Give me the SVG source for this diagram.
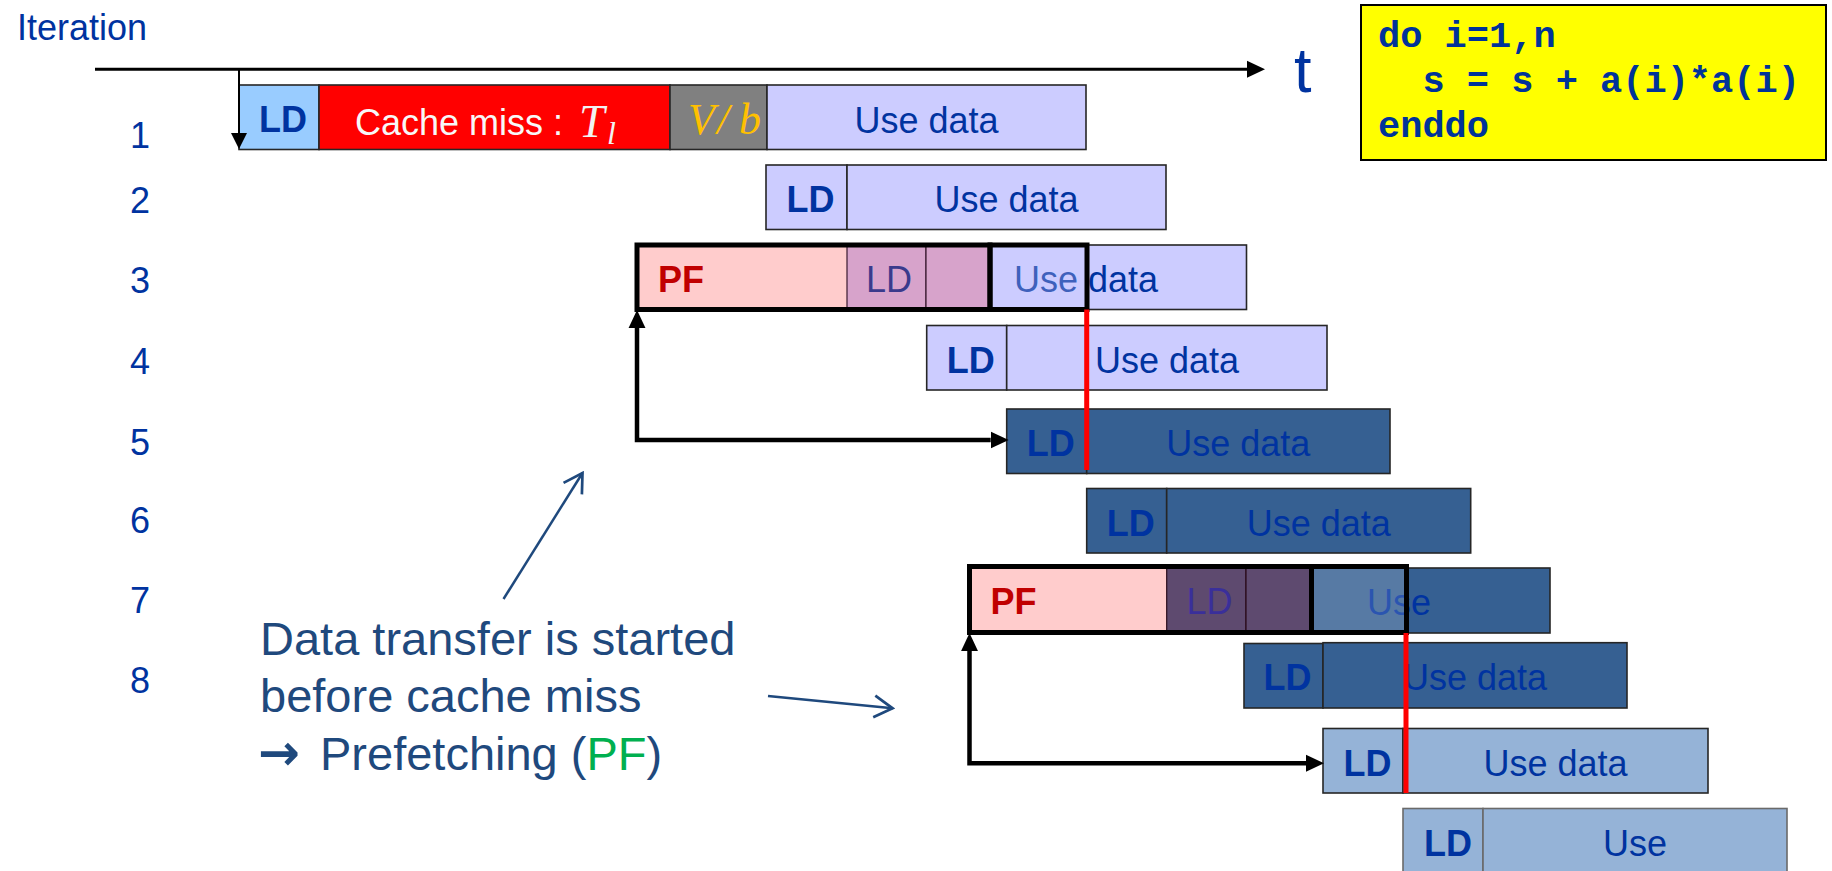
<svg xmlns="http://www.w3.org/2000/svg" width="1832" height="871" viewBox="0 0 1832 871">
<defs>
<style>
text{font-family:"Liberation Sans",Arial,sans-serif}
.lbl{fill:#0033a0}
.num{font-size:36px;fill:#0033a0;text-anchor:middle}
.ld{font-size:36px;font-weight:bold;fill:#0033a0;text-anchor:middle}
.use{font-size:36px;fill:#0033a0;text-anchor:middle}
.box{stroke:#262626;stroke-width:1.6}
.lav{fill:#ccccff}
.dk{fill:#366092}
.lt{fill:#95b3d7}
.thick{fill:none;stroke:#000;stroke-width:5}
.math{font-family:"Liberation Serif","Times New Roman",serif;font-style:italic}
.code{font-family:"Liberation Mono","Courier New",monospace;font-weight:bold;font-size:37px;fill:#003399;white-space:pre}
.ann{font-size:47px;fill:#1f497d}
.conn{fill:none;stroke:#000;stroke-width:4.5}
.annarrow{fill:none;stroke:#1f497d;stroke-width:2.5}
.redline{stroke:#ff0000;stroke-width:5}
</style>
<marker id="ah" markerUnits="userSpaceOnUse" markerWidth="18" markerHeight="18" viewBox="0 -8 16 16" refX="0" refY="0" orient="auto-start-reverse">
<path d="M0,-7.5 L16,0 L0,7.5 Z" fill="#000"/>
</marker>
<marker id="ahs" markerUnits="userSpaceOnUse" markerWidth="18" markerHeight="18" viewBox="0 -8 16 16" refX="0" refY="0" orient="auto">
<path d="M0,-7.5 L16,0 L0,7.5 Z" fill="#000"/>
</marker>
<marker id="open" markerUnits="userSpaceOnUse" markerWidth="24" markerHeight="26" viewBox="-20 -12 22 24" refX="0" refY="0" orient="auto">
<path d="M-17,-10 L0,0 L-17,10" fill="none" stroke="#1f497d" stroke-width="2.5"/>
</marker>
</defs>
<rect width="1832" height="871" fill="#ffffff"/>

<g id="axis-labels">
<text x="17" y="40" class="lbl" font-size="36">Iteration</text>
<text x="1294" y="92" class="lbl" font-size="63">t</text>
<text x="140" y="148" class="num">1</text>
<text x="140" y="213" class="num">2</text>
<text x="140" y="293" class="num">3</text>
<text x="140" y="374" class="num">4</text>
<text x="140" y="455" class="num">5</text>
<text x="140" y="533" class="num">6</text>
<text x="140" y="613" class="num">7</text>
<text x="140" y="693" class="num">8</text>
</g>

<g id="code">
<rect x="1361" y="5" width="465" height="155" fill="#ffff00" stroke="#000" stroke-width="2"/>
<text x="1378" y="47" class="code">do i=1,n</text>
<text x="1378" y="92" class="code">  s = s + a(i)*a(i)</text>
<text x="1378" y="137" class="code">enddo</text>
</g>

<g id="row1">
<rect x="239" y="85" width="80" height="64.5" fill="#99ccff" class="box"/>
<rect x="319" y="85" width="351" height="64.5" fill="#ff0000" class="box"/>
<rect x="670" y="85" width="97" height="64.5" fill="#808080" class="box"/>
<rect x="767" y="85" width="319" height="64.5" class="lav box"/>
<text x="283" y="132" class="ld">LD</text>
<text x="355" y="135" font-size="36" fill="#f8f8f8">Cache miss :</text>
<text x="579" y="137" class="math" font-size="46" fill="#f2f2f2">T</text>
<text x="607" y="144" class="math" font-size="32" fill="#f2f2f2">l</text>
<text class="math" font-size="44" fill="#ffc000" y="134"><tspan x="688">V</tspan><tspan x="717">/</tspan><tspan x="739">b</tspan></text>
<text x="926.5" y="132.5" class="use">Use data</text>
</g>

<g id="row2">
<rect x="766" y="165" width="81" height="64.5" class="lav box"/>
<rect x="847" y="165" width="319" height="64.5" class="lav box"/>
<text x="810.5" y="212" class="ld">LD</text>
<text x="1006.5" y="212" class="use">Use data</text>
</g>

<g id="row3">
<rect x="926" y="245" width="320.5" height="64.5" class="lav box"/>
<text x="1014" y="292" font-size="36" fill="#0033a0">Use data</text>
<rect x="637" y="245" width="210" height="64.5" fill="#ffcccc"/>
<rect x="847" y="245" width="79" height="64.5" fill="#d7a3cb" stroke="#3a1a30" stroke-width="1.2"/>
<rect x="926" y="245" width="64" height="64.5" fill="#d7a3cb" stroke="#3a1a30" stroke-width="1.2"/>
<rect x="990" y="245" width="97" height="64.5" fill="#ccccff" fill-opacity="0.3"/>
<text x="681" y="292" font-size="36" font-weight="bold" fill="#c00000" text-anchor="middle">PF</text>
<text x="889" y="292" font-size="36" fill="#3a3a8c" text-anchor="middle">LD</text>
<rect x="637" y="245" width="353" height="64.5" class="thick"/>
<rect x="990" y="245" width="97" height="64.5" class="thick"/>
</g>

<g id="row4">
<rect x="926.7" y="325.5" width="80" height="64.5" class="lav box"/>
<rect x="1006.7" y="325.5" width="320.3" height="64.5" class="lav box"/>
<text x="970.7" y="372.5" class="ld">LD</text>
<text x="1167" y="372.5" class="use">Use data</text>
</g>

<g id="row5">
<rect x="1006.7" y="409" width="80" height="64.5" class="dk box"/>
<rect x="1086.7" y="409" width="303.3" height="64.5" class="dk box"/>
<text x="1050.7" y="456" class="ld">LD</text>
<text x="1238.3" y="456" class="use">Use data</text>
</g>

<g id="row6">
<rect x="1086.7" y="488.5" width="80" height="64.5" class="dk box"/>
<rect x="1166.7" y="488.5" width="304" height="64.5" class="dk box"/>
<text x="1130.7" y="535.5" class="ld">LD</text>
<text x="1318.7" y="535.5" class="use">Use data</text>
</g>

<g id="row7">
<rect x="1246" y="568" width="304" height="65" class="dk box"/>
<text x="1367" y="615" font-size="36" fill="#0033a0">Use</text>
<rect x="969.5" y="566.5" width="197.2" height="66" fill="#ffcccc"/>
<rect x="1166.7" y="566.5" width="79.3" height="66" fill="#5e4a6f" stroke="#2a0a1a" stroke-width="1.2"/>
<rect x="1246" y="566.5" width="65.5" height="66" fill="#5e4a6f" stroke="#2a0a1a" stroke-width="1.2"/>
<rect x="1311.5" y="566.5" width="95" height="66" fill="#ffffff" fill-opacity="0.17"/>
<text x="1013.5" y="614" font-size="36" font-weight="bold" fill="#c00000" text-anchor="middle">PF</text>
<text x="1209.5" y="614" font-size="36" fill="#3a2f9a" text-anchor="middle">LD</text>
<rect x="969.5" y="566.5" width="342" height="66" class="thick"/>
<rect x="1311.5" y="566.5" width="95" height="66" class="thick"/>
</g>

<g id="row8">
<rect x="1244" y="643.5" width="79" height="64.5" class="dk box"/>
<rect x="1323" y="642.7" width="304" height="65.3" class="dk box"/>
<text x="1287.5" y="690" class="ld">LD</text>
<text x="1475" y="690" class="use">Use data</text>
</g>

<g id="row9">
<rect x="1323" y="728.5" width="80" height="64.5" class="lt box"/>
<rect x="1403" y="728.5" width="305" height="64.5" class="lt box"/>
<text x="1367.5" y="776" class="ld">LD</text>
<text x="1555.5" y="776" class="use">Use data</text>
</g>

<g id="row10">
<rect x="1403" y="808.5" width="80" height="64.5" class="lt" stroke="#6a6a6a" stroke-width="1.6"/>
<rect x="1483" y="808.5" width="304" height="64.5" class="lt" stroke="#6a6a6a" stroke-width="1.6"/>
<text x="1448" y="856" class="ld">LD</text>
<text x="1635" y="856" class="use">Use</text>
</g>

<g id="annotation">
<text class="ann" x="260" y="655">Data transfer is started</text>
<text class="ann" x="260" y="711.7">before cache miss</text>
<text class="ann" y="770"><tspan x="258" font-family="'DejaVu Sans',sans-serif" font-weight="bold" font-size="50">→</tspan><tspan x="320">Prefetching (</tspan><tspan fill="#00b050">PF</tspan><tspan>)</tspan></text>
</g>

<g id="connectors">
<path d="M95,69.3 H1247" fill="none" stroke="#000" stroke-width="3" marker-end="url(#ahs)"/>
<path d="M239,69.3 V133" fill="none" stroke="#000" stroke-width="2"/>
<path d="M231,133 L247,133 L239,149 Z" fill="#000"/>
<line x1="1086.7" y1="309.5" x2="1086.7" y2="470" class="redline"/>
<line x1="1406" y1="633" x2="1406" y2="793" class="redline"/>
<path d="M637,328 V440 H990.7" class="conn" marker-start="url(#ah)" marker-end="url(#ah)"/>
<path d="M969.5,651 V763.3 H1306" class="conn" marker-start="url(#ah)" marker-end="url(#ah)"/>
<path d="M503.5,599 L582.5,473" class="annarrow" marker-end="url(#open)"/>
<path d="M768,696 L892.6,708.3" class="annarrow" marker-end="url(#open)"/>
</g>
</svg>
